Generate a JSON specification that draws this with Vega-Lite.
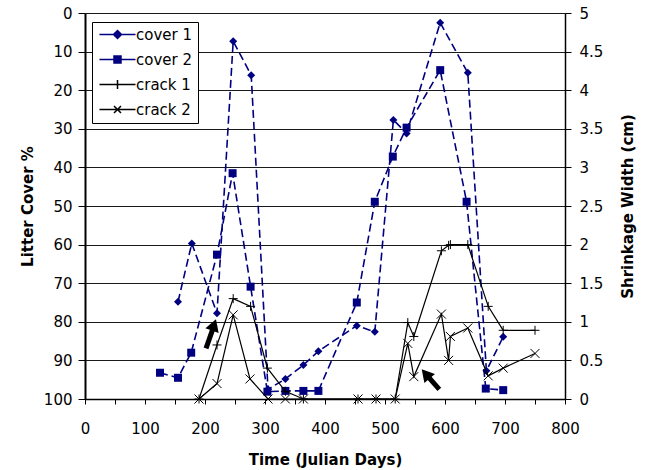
{
  "$schema": "https://vega.github.io/schema/vega-lite/v6.json",
  "width": 480,
  "height": 386,
  "autosize": "none",
  "padding": {"left": 85, "top": 13, "right": 80, "bottom": 71},
  "background": "white",
  "config": {
    "font": "DejaVu Sans",
    "view": {"stroke": null},
    "axis": {
      "labelFont": "DejaVu Sans",
      "labelFontSize": 15,
      "labelColor": "black",
      "titleFont": "DejaVu Sans",
      "titleFontSize": 15,
      "titleFontWeight": "bold",
      "titleColor": "black",
      "domainColor": "black",
      "tickColor": "black",
      "labelOverlap": false,
      "labelFlush": false
    }
  },
  "datasets": {
    "series": [
      {"series": "cover 1", "day": 155, "value": 74.8},
      {"series": "cover 1", "day": 178, "value": 59.7},
      {"series": "cover 1", "day": 220, "value": 77.8},
      {"series": "cover 1", "day": 247, "value": 7.3},
      {"series": "cover 1", "day": 277, "value": 16.1},
      {"series": "cover 1", "day": 305, "value": 97.5},
      {"series": "cover 1", "day": 334, "value": 94.8},
      {"series": "cover 1", "day": 364, "value": 91.2},
      {"series": "cover 1", "day": 389, "value": 87.6},
      {"series": "cover 1", "day": 453, "value": 81.0},
      {"series": "cover 1", "day": 483, "value": 82.6},
      {"series": "cover 1", "day": 514, "value": 27.7},
      {"series": "cover 1", "day": 536, "value": 31.2},
      {"series": "cover 1", "day": 592, "value": 2.5},
      {"series": "cover 1", "day": 638, "value": 15.5},
      {"series": "cover 1", "day": 669, "value": 92.7},
      {"series": "cover 1", "day": 697, "value": 83.9},
      {"series": "cover 2", "day": 125, "value": 93.2},
      {"series": "cover 2", "day": 155, "value": 94.5},
      {"series": "cover 2", "day": 177, "value": 88.0},
      {"series": "cover 2", "day": 220, "value": 62.6},
      {"series": "cover 2", "day": 246, "value": 41.5},
      {"series": "cover 2", "day": 276, "value": 70.9},
      {"series": "cover 2", "day": 304, "value": 98.1},
      {"series": "cover 2", "day": 334, "value": 97.9},
      {"series": "cover 2", "day": 364, "value": 97.9},
      {"series": "cover 2", "day": 389, "value": 97.9},
      {"series": "cover 2", "day": 453, "value": 75.0},
      {"series": "cover 2", "day": 483, "value": 48.9},
      {"series": "cover 2", "day": 513, "value": 37.2},
      {"series": "cover 2", "day": 536, "value": 29.7},
      {"series": "cover 2", "day": 592, "value": 14.8},
      {"series": "cover 2", "day": 636, "value": 48.9},
      {"series": "cover 2", "day": 668, "value": 97.3},
      {"series": "cover 2", "day": 697, "value": 97.7},
      {"series": "crack 1", "day": 190, "value": 0},
      {"series": "crack 1", "day": 220, "value": 0.70},
      {"series": "crack 1", "day": 247, "value": 1.30},
      {"series": "crack 1", "day": 276, "value": 1.20},
      {"series": "crack 1", "day": 304, "value": 0.40},
      {"series": "crack 1", "day": 334, "value": 0.10},
      {"series": "crack 1", "day": 364, "value": 0},
      {"series": "crack 1", "day": 455, "value": 0},
      {"series": "crack 1", "day": 485, "value": 0},
      {"series": "crack 1", "day": 517, "value": 0},
      {"series": "crack 1", "day": 538, "value": 0.99},
      {"series": "crack 1", "day": 548, "value": 0.81},
      {"series": "crack 1", "day": 594, "value": 1.92},
      {"series": "crack 1", "day": 606, "value": 1.99},
      {"series": "crack 1", "day": 609, "value": 2.0},
      {"series": "crack 1", "day": 638, "value": 2.0},
      {"series": "crack 1", "day": 672, "value": 1.20},
      {"series": "crack 1", "day": 697, "value": 0.89},
      {"series": "crack 1", "day": 750, "value": 0.89},
      {"series": "crack 2", "day": 190, "value": 0},
      {"series": "crack 2", "day": 220, "value": 0.20},
      {"series": "crack 2", "day": 247, "value": 1.09},
      {"series": "crack 2", "day": 275, "value": 0.26},
      {"series": "crack 2", "day": 305, "value": 0},
      {"series": "crack 2", "day": 334, "value": 0},
      {"series": "crack 2", "day": 364, "value": 0},
      {"series": "crack 2", "day": 455, "value": 0},
      {"series": "crack 2", "day": 485, "value": 0},
      {"series": "crack 2", "day": 517, "value": 0},
      {"series": "crack 2", "day": 538, "value": 0.72},
      {"series": "crack 2", "day": 548, "value": 0.29},
      {"series": "crack 2", "day": 594, "value": 1.10},
      {"series": "crack 2", "day": 606, "value": 0.50},
      {"series": "crack 2", "day": 609, "value": 0.81},
      {"series": "crack 2", "day": 638, "value": 0.92},
      {"series": "crack 2", "day": 672, "value": 0.30},
      {"series": "crack 2", "day": 697, "value": 0.40},
      {"series": "crack 2", "day": 750, "value": 0.59}
    ],
    "arrows": [
      {"arrow": "a", "day": 201.7, "value": 86.9, "day2": 212.5, "value2": 82.1},
      {"arrow": "b", "day": 590.5, "value": 97.5, "day2": 570, "value2": 93.9}
    ],
    "heads": [
      {"arrow": "a", "day": 215, "value": 80.8},
      {"arrow": "b", "day": 567.8, "value": 93.5}
    ]
  },
  "encoding": {
    "x": {
      "field": "day", "type": "quantitative",
      "scale": {"domain": [0, 800], "nice": false, "zero": false},
      "axis": {
        "title": "Time (Julian Days)",
        "values": [0, 50, 100, 150, 200, 250, 300, 350, 400, 450, 500, 550, 600, 650, 700, 750, 800],
        "tickCount": 40,
        "labelExpr": "datum.value % 100 === 0 ? datum.label : ''",
        "grid": false,
        "tickSize": 5,
        "labelPadding": 17,
        "titlePadding": 16,
        "domainWidth": 1.5
      }
    }
  },
  "layer": [
    {
      "encoding": {
        "y": {
          "field": "value", "type": "quantitative",
          "scale": {"domain": [0, 100], "reverse": true, "nice": false},
          "axis": {
            "title": "Litter Cover %",
            "orient": "left",
            "values": [0, 10, 20, 30, 40, 50, 60, 70, 80, 90, 100],
            "tickCount": 40,
            "grid": true,
            "gridColor": "#1a1a1a",
            "gridWidth": 1,
            "tickSize": 7,
            "labelPadding": 6,
            "titlePadding": 8,
            "domainWidth": 2
          }
        }
      },
      "layer": [
        {
          "data": {"name": "series"},
          "transform": [{"filter": "indexof(datum.series, 'cover') === 0"}],
          "mark": {"type": "line", "strokeDash": [8, 4], "strokeWidth": 1.6, "color": "#000080"},
          "encoding": {"detail": {"field": "series", "type": "nominal"}}
        },
        {
          "data": {"name": "series"},
          "transform": [{"filter": "datum.series === 'cover 1'"}],
          "mark": {"type": "point", "shape": "diamond", "filled": true, "size": 64, "color": "#000080", "opacity": 1},
          "encoding": {}
        },
        {
          "data": {"name": "series"},
          "transform": [{"filter": "datum.series === 'cover 2'"}],
          "mark": {"type": "point", "shape": "square", "filled": true, "size": 64, "color": "#000080", "opacity": 1},
          "encoding": {}
        },
        {
          "data": {"name": "arrows"},
          "mark": {"type": "rule", "strokeWidth": 5, "color": "black", "strokeCap": "butt"},
          "encoding": {
            "x2": {"field": "day2"},
            "y2": {"field": "value2"}
          }
        },
        {
          "data": {"name": "heads"},
          "transform": [{"filter": "datum.arrow === 'a'"}],
          "mark": {"type": "point", "shape": "triangle-up", "filled": true, "size": 196, "color": "black", "opacity": 1, "angle": 19},
          "encoding": {}
        },
        {
          "data": {"name": "heads"},
          "transform": [{"filter": "datum.arrow === 'b'"}],
          "mark": {"type": "point", "shape": "triangle-up", "filled": true, "size": 196, "color": "black", "opacity": 1, "angle": -41},
          "encoding": {}
        }
      ]
    },
    {
      "data": {"name": "series"},
      "transform": [{"filter": "indexof(datum.series, 'crack') === 0"}],
      "encoding": {
        "y": {
          "field": "value", "type": "quantitative",
          "scale": {"domain": [0, 5], "nice": false},
          "axis": {
            "title": "Shrinkage Width (cm)",
            "orient": "right",
            "values": [0, 0.5, 1, 1.5, 2, 2.5, 3, 3.5, 4, 4.5, 5],
            "tickCount": 40,
            "format": "~g",
            "grid": false,
            "tickSize": 6,
            "labelPadding": 8,
            "titleAngle": -90,
            "titleBaseline": "top",
            "titlePadding": 18,
            "domainWidth": 1.5
          }
        }
      },
      "layer": [
        {
          "mark": {"type": "line", "strokeWidth": 1.2, "color": "black"},
          "encoding": {"detail": {"field": "series", "type": "nominal"}}
        },
        {
          "transform": [{"filter": "datum.series === 'crack 1'"}],
          "mark": {"type": "point", "shape": "M-1,0H1M0,-1V1", "filled": false, "size": 81, "color": "black", "strokeWidth": 1, "opacity": 1},
          "encoding": {}
        },
        {
          "transform": [{"filter": "datum.series === 'crack 2'"}],
          "mark": {"type": "point", "shape": "M-1,-1L1,1M-1,1L1,-1", "filled": false, "size": 81, "color": "black", "strokeWidth": 1, "opacity": 1},
          "encoding": {}
        }
      ]
    },
    {
      "data": {"name": "series"},
      "transform": [{"filter": "datum.day < 0"}],
      "mark": {"type": "point", "opacity": 1},
      "encoding": {
        "fill": {
          "field": "series", "type": "nominal",
          "scale": {"domain": ["cover 1", "cover 2", "crack 1", "crack 2"], "range": ["#000080", "#000080", "transparent", "transparent"]},
          "legend": {"title": null, "orient": "none", "legendX": 7, "legendY": 9, "padding": 5, "fillColor": "white", "strokeColor": "black", "labelFont": "DejaVu Sans", "labelFontSize": 15, "labelColor": "black", "symbolSize": 100, "labelOffset": 24, "rowPadding": 9, "symbolStrokeWidth": 1.5, "symbolOpacity": 1}
        },
        "stroke": {
          "field": "series", "type": "nominal",
          "scale": {"domain": ["cover 1", "cover 2", "crack 1", "crack 2"], "range": ["#000080", "#000080", "black", "black"]},
          "legend": {"title": null, "orient": "none", "legendX": 7, "legendY": 9, "padding": 5, "fillColor": "white", "strokeColor": "black", "labelFont": "DejaVu Sans", "labelFontSize": 15, "labelColor": "black", "symbolSize": 100, "labelOffset": 24, "rowPadding": 9, "symbolStrokeWidth": 1.5, "symbolOpacity": 1}
        },
        "shape": {
          "field": "series", "type": "nominal",
          "scale": {"domain": ["cover 1", "cover 2", "crack 1", "crack 2"], "range": ["M-1,0H6.2M2.6,-0.8L3.4,0L2.6,0.8L1.8,0Z", "M-1,0H6.2M1.9,-0.7H3.3V0.7H1.9Z", "M-1,0H6.2M2.6,-0.9V0.9", "M-1,0H6.2M1.9,-0.7L3.3,0.7M1.9,0.7L3.3,-0.7"]},
          "legend": {"title": null, "orient": "none", "legendX": 7, "legendY": 9, "padding": 5, "fillColor": "white", "strokeColor": "black", "labelFont": "DejaVu Sans", "labelFontSize": 15, "labelColor": "black", "symbolSize": 100, "labelOffset": 24, "rowPadding": 9, "symbolStrokeWidth": 1.5, "symbolOpacity": 1}
        }
      }
    }
  ],
  "resolve": {"scale": {"y": "independent"}}
}
